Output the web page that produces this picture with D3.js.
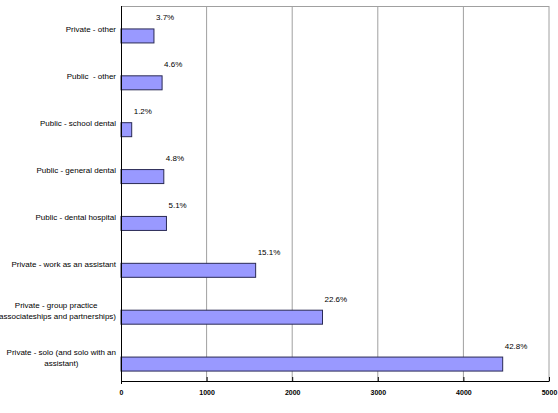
<!DOCTYPE html>
<html>
<head>
<meta charset="utf-8">
<script src="https://cdn.jsdelivr.net/npm/d3@7"></script>
<style>
  body { margin: 0; background: #fff; }
  text { font-family: "Liberation Sans", Arial, sans-serif; fill: #000; white-space: pre; }
</style>
</head>
<body>
<div class="graph"></div>
<script>
// 카테고리 (위에서 아래 순서), 줄바꿈은 \n
const categories = [
  "Private - other",
  "Public  - other",
  "Public - school dental",
  "Public - general dental",
  "Public - dental hospital",
  "Private - work as an assistant",
  "Private - group practice\n(associateships and partnerships)",
  "Private - solo (and solo with an\nassistant)"
];
const counts = [385, 480, 125, 500, 531, 1573, 2354, 4459];
const percents = ["3.7%", "4.6%", "1.2%", "4.8%", "5.1%", "15.1%", "22.6%", "42.8%"];
const xTicks = [0, 1000, 2000, 3000, 4000, 5000];

const width = 558, height = 413;
const [mt, mr, mb, ml] = [6, 9, 32, 121]; // 여백

const data = categories.map((c, i) => ({domain: c, count: counts[i], pct: percents[i]}));

const svg = d3.select(".graph").append("svg")
  .attr("width", width)
  .attr("height", height);

const x = d3.scaleLinear()
  .domain([0, 5000])
  .range([ml, width - mr]);

const y = d3.scaleBand()
  .domain(categories)
  .range([mt, height - mb]);

const barH = 14;

// 그리드 라인
svg.append("g")
  .selectAll("line")
  .data(xTicks.slice(1))
  .join("line")
    .attr("x1", d => x(d)).attr("x2", d => x(d))
    .attr("y1", mt).attr("y2", height - mb)
    .attr("stroke", "#a0a0a0")
    .attr("stroke-width", 1);

// 위쪽 테두리
svg.append("line")
  .attr("x1", ml).attr("x2", x(5000))
  .attr("y1", mt + 0.5).attr("y2", mt + 0.5)
  .attr("stroke", "#a0a0a0");

// 막대
svg.append("g")
  .selectAll("rect")
  .data(data)
  .join("rect")
    .attr("x", x(0))
    .attr("y", d => y(d.domain) + y.bandwidth() / 2 - 0.5)
    .attr("width", d => x(d.count) - x(0))
    .attr("height", barH)
    .attr("fill", "#9999ff")
    .attr("stroke", "#2a2a55")
    .attr("stroke-width", 1);

// 퍼센트 라벨
svg.append("g")
  .selectAll("text")
  .data(data)
  .join("text")
    .attr("x", d => x(d.count) + 2)
    .attr("y", d => y(d.domain) + y.bandwidth() / 2 - 9)
    .attr("font-size", "8px")
    .text(d => d.pct);

// 카테고리 라벨 (여러 줄은 가운데 정렬, 블록은 오른쪽 정렬)
const labels = svg.append("g")
  .selectAll("text")
  .data(data)
  .join("text")
    .attr("font-size", "8px")
    .attr("y", d => y(d.domain) + y.bandwidth() / 2);

labels.each(function(d) {
  const t = d3.select(this);
  const lines = d.domain.split("\n");
  const lh = 11.5;
  lines.forEach((l, i) => {
    t.append("tspan")
      .attr("dy", i === 0 ? (-(lines.length - 1) * lh / 2 + 3) : lh)
      .text(l);
  });
  let maxW = 0;
  t.selectAll("tspan").each(function() {
    maxW = Math.max(maxW, this.getComputedTextLength());
  });
  const cx = ml - 5 - maxW / 2;
  t.attr("text-anchor", "middle");
  t.selectAll("tspan").attr("x", cx);
});

// x축
const xAxis = d3.axisBottom(x)
  .tickValues(xTicks)
  .tickFormat(d3.format("d"))
  .tickSizeInner(-4)
  .tickSizeOuter(0)
  .tickPadding(9);

svg.append("g")
  .attr("transform", `translate(0, ${height - mb})`)
  .call(xAxis)
  .call(g => g.select(".domain").attr("stroke", "#000"))
  .call(g => g.selectAll(".tick line").attr("stroke", "#000"))
  .call(g => g.selectAll(".tick text")
    .attr("font-size", "7px")
    .attr("font-weight", "bold")
    .attr("font-family", "Liberation Sans, Arial, sans-serif"));

// y축 선
svg.append("line")
  .attr("x1", ml + 0.5).attr("x2", ml + 0.5)
  .attr("y1", mt).attr("y2", height - mb + 3)
  .attr("stroke", "#000");
</script>
</body>
</html>
